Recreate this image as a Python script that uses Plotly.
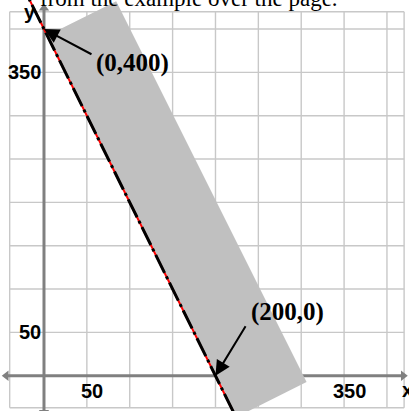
import numpy as np
import plotly.graph_objects as go

# Intercepts of the boundary line 2x + y = 400
intercept_x = [0, 200]
intercept_y = [400, 0]
point_labels = ["(0,400)", "(200,0)"]

# Shaded feasible region (rotated band beside the boundary)
region_x = [3.8, 84.2, 306.2, 224.0]
region_y = [392.4, 432.2, -7.3, -48.0]

# Labelled ticks
x_tick_vals = [50, 350]
y_tick_vals = [50, 350]

# Grid: every 50 units, inside a bounding frame
grid_step = 50
grid_x_bounds = [-40, 420]
grid_y_bounds = [-37, 420]

# Axis extents (arrow ends)
x_axis_ends = [-44, 419]
y_axis_ends = [-42, 424]

x_range = [-51.3, 425.7]
y_range = [-40.7, 433.5]

fig = go.Figure()

# grid lines as one trace with gaps
gx, gy = [], []
xs = [grid_x_bounds[0]] + list(range(grid_step, grid_x_bounds[1], grid_step)) + [grid_x_bounds[1]]
ys = [grid_y_bounds[0]] + list(range(grid_step, grid_y_bounds[1], grid_step)) + [grid_y_bounds[1]]
for v in xs:
    gx += [v, v, None]
    gy += [grid_y_bounds[0], grid_y_bounds[1], None]
for v in ys:
    gx += [grid_x_bounds[0], grid_x_bounds[1], None]
    gy += [v, v, None]
fig.add_trace(go.Scatter(x=gx, y=gy, mode="lines",
                         line=dict(color="rgb(200,200,200)", width=1.4),
                         hoverinfo="skip"))

# axes with arrowheads
axis_col = "rgb(128,128,128)"
fig.add_trace(go.Scatter(x=x_axis_ends, y=[0, 0], mode="lines+markers",
                         line=dict(color=axis_col, width=3),
                         marker=dict(symbol=["triangle-left", "triangle-right"], size=9, color=axis_col)))
fig.add_trace(go.Scatter(x=[0, 0], y=y_axis_ends, mode="lines+markers",
                         line=dict(color=axis_col, width=3),
                         marker=dict(symbol=["triangle-down", "triangle-up"], size=9, color=axis_col)))

# shaded region
fig.add_trace(go.Scatter(x=region_x + [region_x[0]], y=region_y + [region_y[0]],
                         mode="lines", fill="toself", fillcolor="rgb(192,192,192)",
                         line=dict(width=0, color="rgb(192,192,192)"), hoverinfo="skip"))

# boundary line through the two intercepts, extended across the view
slope = (intercept_y[1] - intercept_y[0]) / (intercept_x[1] - intercept_x[0])
lx = np.array([-30.0, 240.0])
ly = intercept_y[0] + slope * (lx - intercept_x[0])
fig.add_trace(go.Scatter(x=lx, y=ly, mode="lines", line=dict(color="red", width=2)))
fig.add_trace(go.Scatter(x=lx, y=ly, mode="lines",
                         line=dict(color="black", width=3, dash="20px,4px,3px,4px")))

annotations = []
serif_bold = dict(family="Liberation Serif", size=25, color="black")
sans_bold = dict(family="Liberation Sans", size=20, color="black")

# arrows to the intercepts (tail offsets in pixels)
arrow_tails = [(49, 26), (31, -51)]
for px, py, (ax, ay) in zip(intercept_x, intercept_y, arrow_tails):
    annotations.append(dict(x=px, y=py, xref="x", yref="y", text="", showarrow=True,
                            ax=ax, ay=ay, arrowhead=2, arrowsize=1.5, arrowwidth=2,
                            arrowcolor="black", standoff=0))

# intercept labels
label_offsets = [(89, -34), (72, 64)]
for px, py, txt, (dx, dy) in zip(intercept_x, intercept_y, point_labels, label_offsets):
    annotations.append(dict(x=px, y=py, xref="x", yref="y", text="<b>%s</b>" % txt,
                            showarrow=False, xshift=dx, yshift=dy, font=serif_bold))

# tick labels
for v in x_tick_vals:
    annotations.append(dict(x=v, y=0, xref="x", yref="y", text="<b>%d</b>" % v,
                            showarrow=False, xshift=5, yshift=-15, font=sans_bold))
for v in y_tick_vals:
    annotations.append(dict(x=0, y=v, xref="x", yref="y", text="<b>%d</b>" % v,
                            showarrow=False, xanchor="right", xshift=-1, font=sans_bold))

# axis names
annotations.append(dict(x=x_axis_ends[1], y=0, xref="x", yref="y", text="<b>x</b>",
                        showarrow=False, xshift=4, yshift=-14, font=sans_bold))
annotations.append(dict(x=0, y=y_axis_ends[1], xref="x", yref="y", text="<b>y</b>",
                        showarrow=False, xshift=-14, yshift=-4, font=sans_bold))

# running text from the page above
annotations.append(dict(x=38 / 409, y=1, xref="paper", yref="paper",
                        text="from the example over the page.", showarrow=False,
                        xanchor="left", yanchor="middle", yshift=2,
                        font=dict(family="Liberation Serif", size=23, color="black")))

fig.update_layout(
    width=409, height=411,
    margin=dict(l=0, r=0, t=0, b=0),
    paper_bgcolor="white", plot_bgcolor="white",
    showlegend=False,
    annotations=annotations,
    xaxis=dict(range=x_range, visible=False, fixedrange=True),
    yaxis=dict(range=y_range, visible=False, fixedrange=True),
)

fig.write_html("out.html")
